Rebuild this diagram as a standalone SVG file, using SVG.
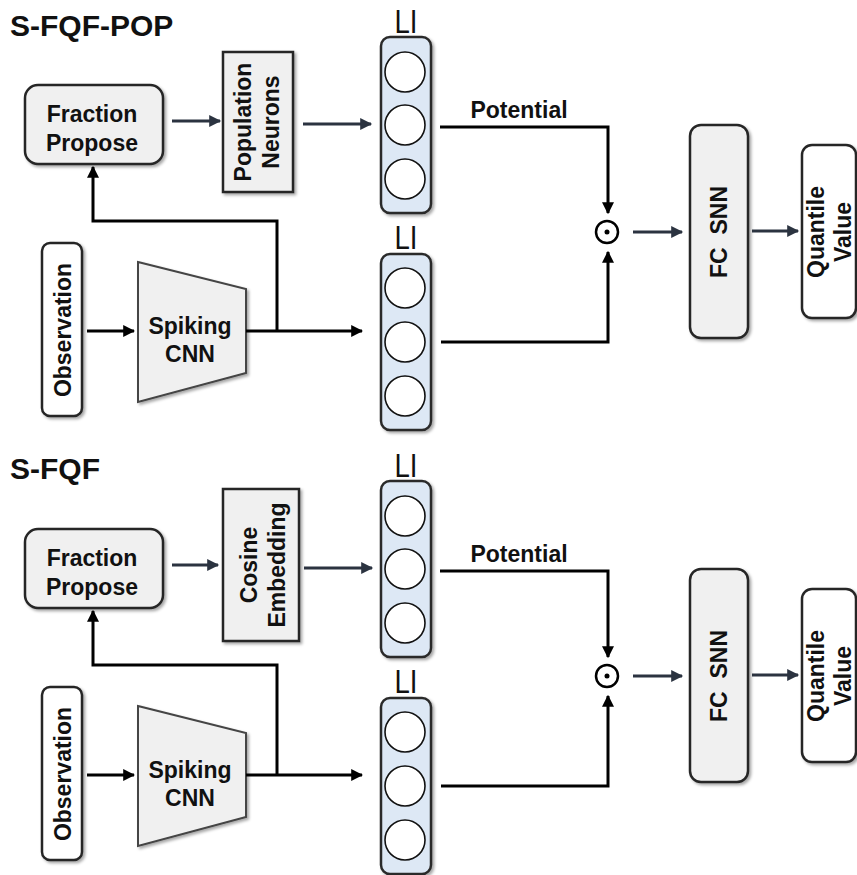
<svg xmlns="http://www.w3.org/2000/svg" width="857" height="875" viewBox="0 0 857 875">
<defs>
<filter id="sh" x="-20%" y="-20%" width="150%" height="150%">
<feDropShadow dx="2" dy="2" stdDeviation="1.5" flood-color="#000" flood-opacity="0.35"/>
</filter>
<marker id="ab" viewBox="0 0 10 10" refX="9" refY="5" markerWidth="4" markerHeight="4" orient="auto" markerUnits="strokeWidth">
<path d="M0,0 L10,5 L0,10 z" fill="#000"/>
</marker>
<marker id="ad" viewBox="0 0 10 10" refX="9" refY="5" markerWidth="4.5" markerHeight="4" orient="auto" markerUnits="strokeWidth">
<path d="M0,0 L10,5 L0,10 z" fill="#2b3340"/>
</marker>
</defs>
<style>
.t{font-family:"Liberation Sans",Arial,sans-serif;font-weight:bold;font-size:23px;fill:#111;text-anchor:middle}
.title{font-family:"Liberation Sans",Arial,sans-serif;font-weight:bold;font-size:30px;fill:#111}
.li{font-family:"Liberation Sans",Arial,sans-serif;font-size:34px;fill:#111;text-anchor:middle}
.box{fill:#f0f0f0;stroke:#262626;stroke-width:2.5;filter:url(#sh)}
.wbox{fill:#fff;stroke:#262626;stroke-width:2.5;filter:url(#sh)}
.licol{fill:#dde8f5;stroke:#2b2b2b;stroke-width:2.5;filter:url(#sh)}
.neu{fill:#fff;stroke:#111;stroke-width:1.6}
.cb{fill:none;stroke:#000;stroke-width:3;marker-end:url(#ab)}
.cd{fill:none;stroke:#2b3340;stroke-width:3;marker-end:url(#ad)}
.od{fill:none;stroke:#000;stroke-width:2.5}
</style>

<text class="title" x="10" y="36">S-FQF-POP</text>
<text class="title" x="10" y="479">S-FQF</text>

<!-- ===== Top section: S-FQF-POP ===== -->
<g id="fp1"><rect class="box" x="25" y="85" width="138" height="79" rx="13"/>
<text class="t" x="92" y="122">Fraction</text><text class="t" x="92" y="151">Propose</text></g>

<g id="pop1"><rect class="box" x="223" y="52" width="70" height="140"/>
<g transform="translate(258,122) rotate(-90)"><text class="t" x="0" y="-7">Population</text><text class="t" x="0" y="21">Neurons</text></g></g>

<g id="li1a"><text class="li" x="406" y="33" textLength="23" lengthAdjust="spacingAndGlyphs">LI</text>
<rect class="licol" x="381" y="37" width="50" height="176" rx="9"/>
<circle class="neu" cx="405" cy="72" r="20"/><circle class="neu" cx="405" cy="125" r="20"/><circle class="neu" cx="405" cy="179" r="20"/></g>

<g id="obs1"><rect class="wbox" x="42" y="243" width="40" height="173" rx="8"/>
<g transform="translate(62,330) rotate(-90)"><text class="t" x="0" y="9">Observation</text></g></g>

<g id="cnn1"><path class="box" d="M138,262 L246,289 L246,373 L138,402 Z" style="stroke:#444;stroke-width:2"/>
<text class="t" x="190" y="334">Spiking</text><text class="t" x="190" y="362">CNN</text></g>

<g id="li1b"><text class="li" x="406" y="249" textLength="23" lengthAdjust="spacingAndGlyphs">LI</text>
<rect class="licol" x="381" y="254" width="50" height="176" rx="9"/>
<circle class="neu" cx="405" cy="288" r="20"/><circle class="neu" cx="405" cy="342" r="20"/><circle class="neu" cx="405" cy="396" r="20"/></g>

<g id="dot1"><circle class="od" cx="607" cy="232" r="11"/><circle cx="607" cy="232" r="2.5" fill="#000"/></g>

<g id="fc1"><rect class="box" x="690" y="125" width="58" height="213" rx="11"/>
<g transform="translate(719,232) rotate(-90)"><text class="t" x="0" y="8" xml:space="preserve">FC  SNN</text></g></g>

<g id="q1"><rect class="wbox" x="802" y="145" width="54" height="173" rx="10"/>
<g transform="translate(829,232) rotate(-90)"><text class="t" x="0" y="-5">Quantile</text><text class="t" x="0" y="22">Value</text></g></g>

<!-- ===== Bottom section: S-FQF ===== -->
<g id="fp2"><rect class="box" x="25" y="529" width="138" height="79" rx="13"/>
<text class="t" x="92" y="566">Fraction</text><text class="t" x="92" y="595">Propose</text></g>

<g id="cos2"><rect class="box" x="223" y="489" width="76" height="152"/>
<g transform="translate(261,565) rotate(-90)"><text class="t" x="0" y="-4">Cosine</text><text class="t" x="0" y="24">Embedding</text></g></g>

<g id="li2a"><text class="li" x="406" y="477" textLength="23" lengthAdjust="spacingAndGlyphs">LI</text>
<rect class="licol" x="381" y="481" width="50" height="176" rx="9"/>
<circle class="neu" cx="405" cy="516" r="20"/><circle class="neu" cx="405" cy="569" r="20"/><circle class="neu" cx="405" cy="623" r="20"/></g>

<g id="obs2"><rect class="wbox" x="42" y="687" width="40" height="173" rx="8"/>
<g transform="translate(62,774) rotate(-90)"><text class="t" x="0" y="9">Observation</text></g></g>

<g id="cnn2"><path class="box" d="M138,706 L246,733 L246,817 L138,846 Z" style="stroke:#444;stroke-width:2"/>
<text class="t" x="190" y="778">Spiking</text><text class="t" x="190" y="806">CNN</text></g>

<g id="li2b"><text class="li" x="406" y="693" textLength="23" lengthAdjust="spacingAndGlyphs">LI</text>
<rect class="licol" x="381" y="698" width="50" height="176" rx="9"/>
<circle class="neu" cx="405" cy="732" r="20"/><circle class="neu" cx="405" cy="786" r="20"/><circle class="neu" cx="405" cy="840" r="20"/></g>

<g id="dot2"><circle class="od" cx="607" cy="676" r="11"/><circle cx="607" cy="676" r="2.5" fill="#000"/></g>

<g id="fc2"><rect class="box" x="690" y="569" width="58" height="213" rx="11"/>
<g transform="translate(719,676) rotate(-90)"><text class="t" x="0" y="8" xml:space="preserve">FC  SNN</text></g></g>

<g id="q2"><rect class="wbox" x="802" y="589" width="54" height="173" rx="10"/>
<g transform="translate(829,676) rotate(-90)"><text class="t" x="0" y="-5">Quantile</text><text class="t" x="0" y="22">Value</text></g></g>

<text class="t" x="519" y="118">Potential</text>
<text class="t" x="519" y="562">Potential</text>

<!-- ===== Connectors ===== -->
<g id="connectors">
<path class="cd" d="M172,121 H220"/>
<path class="cd" d="M303,124 H371"/>
<path class="cd" d="M633,232 H682"/>
<path class="cd" d="M752,231 H798"/>
<path class="cb" d="M87,331 H134"/>
<path class="cb" d="M246,331 H362"/>
<path class="cb" d="M277,331 V221 H93 V167"/>
<path class="cb" d="M440,127 H608 V213"/>
<path class="cb" d="M441,342 H608 V252"/>

<path class="cd" d="M172,565 H218"/>
<path class="cd" d="M304,568 H372"/>
<path class="cd" d="M633,676 H682"/>
<path class="cd" d="M752,675 H798"/>
<path class="cb" d="M87,775 H134"/>
<path class="cb" d="M246,775 H362"/>
<path class="cb" d="M277,775 V665 H93 V611"/>
<path class="cb" d="M440,571 H608 V657"/>
<path class="cb" d="M441,786 H608 V696"/>
</g>
</svg>
